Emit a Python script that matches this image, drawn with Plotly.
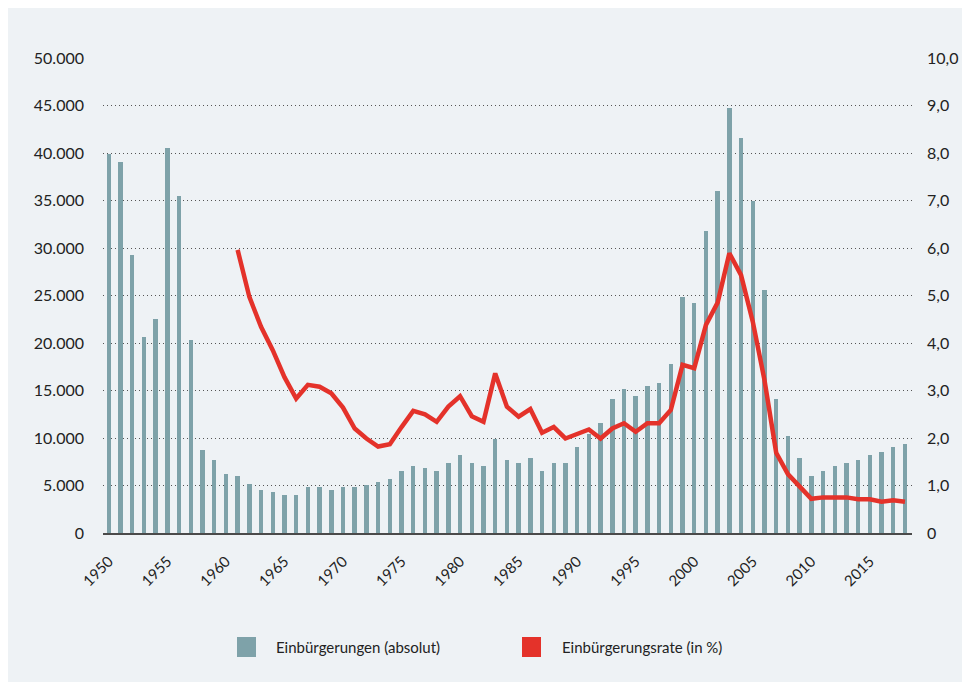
import plotly.graph_objects as go

years = list(range(1950, 2019))
einbuergerungen = [
    39900, 39050, 29300, 20600, 22500, 40500, 35500, 20300, 8770, 7650,
    6250, 6000, 5160, 4560, 4280, 4000, 4000, 4840, 4840, 4560,
    4840, 4840, 5100, 5370, 5680, 6500, 7080, 6800, 6500, 7370,
    8200, 7370, 7080, 9900, 7650, 7370, 7930, 6500, 7370, 7370,
    9050, 10450, 11600, 14100, 15200, 14400, 15500, 15800, 17750, 24800,
    24200, 31800, 36000, 44700, 41600, 34900, 25600, 14100, 10200, 7900,
    5970, 6500, 7080, 7370, 7650, 8200, 8500, 9050, 9340,
]
rate_years = list(range(1961, 2019))
rate = [
    5.96, 4.97, 4.34, 3.85, 3.28, 2.83, 3.12, 3.08, 2.94,
    2.64, 2.20, 1.99, 1.82, 1.87, 2.23, 2.57, 2.50, 2.34, 2.66,
    2.88, 2.46, 2.34, 3.36, 2.66, 2.45, 2.61, 2.11, 2.23, 1.99,
    2.08, 2.18, 1.99, 2.20, 2.31, 2.13, 2.31, 2.31, 2.59, 3.54,
    3.47, 4.38, 4.85, 5.89, 5.43, 4.45, 3.22, 1.69, 1.24, 0.97,
    0.72, 0.75, 0.75, 0.75, 0.71, 0.71, 0.66, 0.69, 0.66,
]
x_ticks = list(range(1950, 2020, 5))
y_ticks = list(range(0, 50001, 5000))
y_ticktext = ["0"] + [f"{v // 1000}.000" for v in y_ticks[1:]]
y2_ticks = list(range(0, 11))
y2_ticktext = ["0"] + [f"{v},0" for v in y2_ticks[1:]]
legend_labels = ["Einbürgerungen (absolut)", "Einbürgerungsrate (in %)"]

BAR = "#7ea2a9"
RED = "#e4322a"
PANEL = "#eef2f5"
FONT = "Lato"

# figure coordinates (page has an 8px body margin)
W, H = 970, 682
L, R, T, B = 95, 904, 50, 525


def px(x):
    return (x - L) / (R - L)


def py(y):
    return (B - y) / (B - T)


fig = go.Figure()
fig.add_trace(go.Bar(x=years, y=einbuergerungen, marker_color=BAR,
                     marker_line_width=0, width=0.38, showlegend=False))
fig.add_trace(go.Scatter(x=rate_years, y=rate, yaxis="y2", mode="lines",
                         line=dict(color=RED, width=4.5), showlegend=False))

shapes = [
    dict(type="rect", xref="paper", yref="paper", x0=px(229), x1=px(248),
         y0=py(649), y1=py(629), fillcolor=BAR, line_width=0),
    dict(type="rect", xref="paper", yref="paper", x0=px(514), x1=px(533),
         y0=py(649), y1=py(629), fillcolor=RED, line_width=0),
]
annotations = [
    dict(xref="paper", yref="paper", x=px(266), y=py(639), text=legend_labels[0],
         showarrow=False, xanchor="left", yanchor="middle",
         font=dict(family=FONT, size=15, color="#222")),
    dict(xref="paper", yref="paper", x=px(552), y=py(639), text=legend_labels[1],
         showarrow=False, xanchor="left", yanchor="middle",
         font=dict(family=FONT, size=15, color="#222")),
]

fig.update_layout(
    width=W, height=H,
    margin=dict(l=L, r=W - R, t=T, b=H - B),
    paper_bgcolor=PANEL,
    plot_bgcolor=PANEL,
    font=dict(family=FONT, size=16, color="#222"),
    bargap=0,
    shapes=shapes,
    annotations=annotations,
    xaxis=dict(range=[1949.5, 2018.6], tickvals=x_ticks, tickangle=-45,
               showgrid=False, zeroline=False, showline=True,
               linecolor="#4a4a4a", linewidth=1.5, ticks="",
               ticklabelstandoff=12, tickfont=dict(size=15)),
    yaxis=dict(range=[0, 50000], tickvals=y_ticks, ticktext=y_ticktext,
               showgrid=True, gridcolor="#555", gridwidth=1,
               griddash="1px,3px", zeroline=False, showline=False,
               ticks="", ticklabelstandoff=18),
    yaxis2=dict(range=[0, 10], tickvals=y2_ticks, ticktext=y2_ticktext,
                overlaying="y", side="right", showgrid=False,
                zeroline=False, showline=False, ticks="",
                ticklabelstandoff=14),
)

fig.write_html("out.html")
